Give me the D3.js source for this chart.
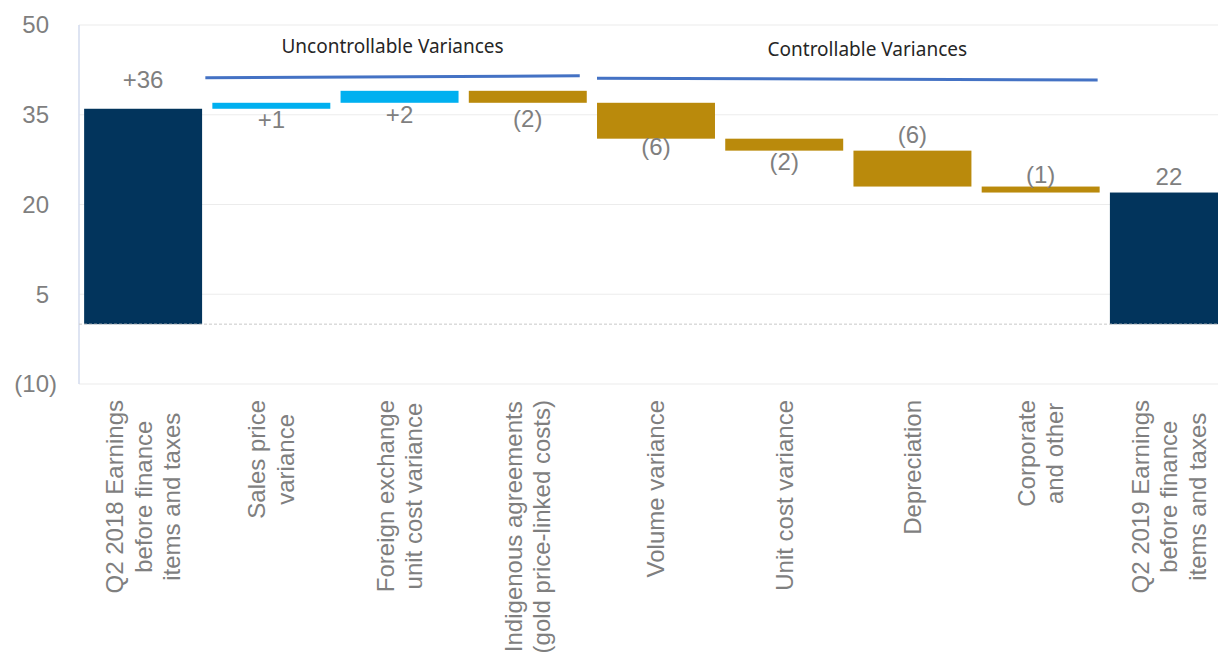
<!DOCTYPE html>
<html>
<head>
<meta charset="utf-8">
<script src="https://cdn.jsdelivr.net/npm/d3@7/dist/d3.min.js"></script>
<style>
  html, body { margin: 0; padding: 0; background: #fff; }
  svg { display: block; }
</style>
</head>
<body>
<svg id="chart" width="1218" height="660"></svg>
<script>
// Earnings bridge: Q2 2018 -> Q2 2019 (EBIT before finance items and taxes)
const categories = [
  ["Q2 2018 Earnings", "before finance", "items and taxes"],
  ["Sales price", "variance"],
  ["Foreign exchange", "unit cost variance"],
  ["Indigenous agreements", "(gold price-linked costs)"],
  ["Volume variance"],
  ["Unit cost variance"],
  ["Depreciation"],
  ["Corporate", "and other"],
  ["Q2 2019 Earnings", "before finance", "items and taxes"]
];
// Totals (first and last) and variances in between
const values = [36, 1, 2, -2, -6, -2, -6, -1, 22];
const isTotal = [true, false, false, false, false, false, false, false, true];
const valueLabels = ["+36", "+1", "+2", "(2)", "(6)", "(2)", "(6)", "(1)", "22"];
const yTicks = [50, 35, 20, 5, -10];
const groupNames = ["Uncontrollable Variances", "Controllable Variances"];
const groupFrom = [1, 4];
const groupTo = [3, 7];

// ---- layout & style ----
const W = 1218, H = 660;
const plot = { left: 79, right: 1233, top: 25, bottom: 384 };
const colors = { total: "#02345C", up: "#00B0F0", down: "#BA8A0C" };
const labelFont = "'Liberation Sans', Arial, sans-serif";
const grey = "#7f7f7f";
// data label placement: side of bar and centre offset in px
const labelSide = ["top", "bottom", "bottom", "bottom", "bottom", "bottom", "top", "top", "top"];
const labelOffset = [-29, 11, 12, 16, 8, 11, -16, -12, -16];
// group annotation geometry
const groupLineLevel = [[41.2, 41.5], [41.1, 40.8]];
const groupNudge = [[-7, -7], [0, -2]];
const groupTextDx = [0, 20];
const groupTextY = [46, 49];

const svg = d3.select("#chart");

const x = d3.scaleBand()
  .domain(d3.range(categories.length))
  .range([plot.left, plot.right])
  .paddingInner(0.08)
  .paddingOuter(0.04);

const y = d3.scaleLinear().domain([-10, 50]).range([plot.bottom, plot.top]);

// running totals for the floating bars
let run = 0;
const bars = values.map((v, i) => {
  let lo, hi;
  if (isTotal[i]) { lo = 0; hi = v; run = v; }
  else { const s = run; run += v; lo = Math.min(s, run); hi = Math.max(s, run); }
  return { i, v, lo, hi };
});

// gridlines
svg.append("g")
  .selectAll("line")
  .data(yTicks)
  .join("line")
  .attr("x1", plot.left).attr("x2", W)
  .attr("y1", d => y(d)).attr("y2", d => y(d))
  .attr("stroke", "#ececec").attr("stroke-width", 1.2);

// left axis line
svg.append("line")
  .attr("x1", plot.left).attr("x2", plot.left)
  .attr("y1", y(50)).attr("y2", y(-10))
  .attr("stroke", "#d3dbee").attr("stroke-width", 1.5);

// y tick labels, accounting format (negatives in parentheses)
const fmt = d => d < 0 ? `(${-d})` : `${d}`;
const tickG = svg.append("g")
  .attr("font-family", labelFont).attr("font-size", 24).attr("fill", grey);
tickG.selectAll("text")
  .data(yTicks)
  .join("text")
  .attr("x", d => d < 0 ? 57 : 49)
  .attr("y", d => y(d))
  .attr("dy", "0.35em")
  .attr("text-anchor", "end")
  .text(fmt);

// bars
svg.append("g")
  .selectAll("rect")
  .data(bars)
  .join("rect")
  .attr("x", d => x(d.i))
  .attr("width", x.bandwidth())
  .attr("y", d => y(d.hi))
  .attr("height", d => y(d.lo) - y(d.hi))
  .attr("fill", d => isTotal[d.i] ? colors.total : (d.v >= 0 ? colors.up : colors.down));

// zero line
svg.append("line")
  .attr("x1", plot.left).attr("x2", W)
  .attr("y1", y(0)).attr("y2", y(0))
  .attr("stroke", "#c8c8c8").attr("stroke-width", 1)
  .attr("stroke-dasharray", "3,2");

// value labels
svg.append("g")
  .attr("font-family", labelFont).attr("font-size", 24).attr("fill", grey)
  .selectAll("text")
  .data(bars)
  .join("text")
  .attr("x", d => x(d.i) + x.bandwidth() / 2)
  .attr("y", d => (labelSide[d.i] === "top" ? y(d.hi) : y(d.lo)) + labelOffset[d.i])
  .attr("dy", "0.35em")
  .attr("text-anchor", "middle")
  .text(d => valueLabels[d.i]);

// rotated category labels, block aligned to the axis, lines centred
const catG = svg.append("g")
  .attr("font-family", labelFont).attr("font-size", 24).attr("fill", grey);
const lineGap = 28.5;
const blockTop = 400;
categories.forEach((lines, i) => {
  const cx = x(i) + x.bandwidth() / 2;
  const g = catG.append("g");
  const texts = lines.map(t => g.append("text").attr("text-anchor", "middle").text(t));
  const maxW = d3.max(texts, t => t.node().getComputedTextLength());
  texts.forEach((t, k) => {
    const lx = cx + (k - (lines.length - 1) / 2) * lineGap;
    t.attr("transform", `translate(${lx},${blockTop + maxW / 2}) rotate(-90)`)
     .attr("dy", "0.35em");
  });
});

// group brackets
const grpG = svg.append("g");
groupNames.forEach((name, g) => {
  const x1 = x(groupFrom[g]) + groupNudge[g][0];
  const x2 = x(groupTo[g]) + x.bandwidth() + groupNudge[g][1];
  grpG.append("line")
    .attr("x1", x1).attr("x2", x2)
    .attr("y1", y(groupLineLevel[g][0])).attr("y2", y(groupLineLevel[g][1]))
    .attr("stroke", "#4472C4").attr("stroke-width", 3);
  grpG.append("text")
    .attr("x", (x1 + x2) / 2 + groupTextDx[g])
    .attr("y", groupTextY[g])
    .attr("dy", "0.35em")
    .attr("text-anchor", "middle")
    .attr("font-family", "'Noto Sans', 'Open Sans', sans-serif")
    .attr("font-size", 19)
    .attr("fill", "#262626")
    .text(name);
});
</script>
</body>
</html>
